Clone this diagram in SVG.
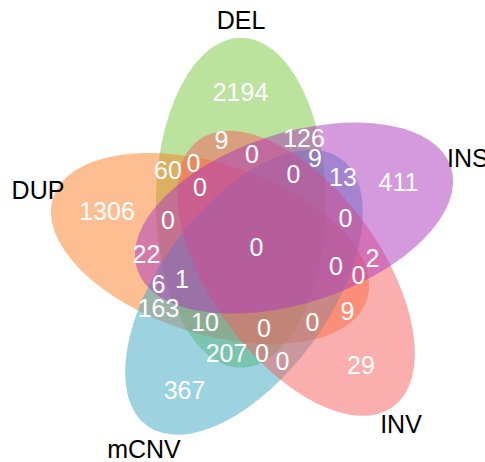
<svg xmlns="http://www.w3.org/2000/svg" width="485" height="462" viewBox="0 0 485 462">
<style>
.set{fill-opacity:0.5;stroke:none}
.n{font-family:"Liberation Sans",Arial,sans-serif;font-size:25px;fill:#fff;text-anchor:middle}
.lab{font-family:"Liberation Sans",Arial,sans-serif;font-size:25px;fill:#000;text-anchor:middle}
</style>
<rect width="485" height="462" fill="#fff"/>
<g id="DEL"><ellipse class="set" cx="240.9" cy="202.8" rx="165" ry="85" transform="rotate(-90 240.9 202.8)" fill="#77C73B"/><text class="lab" x="241" y="29">DEL</text></g>
<g id="DUP"><ellipse class="set" cx="210" cy="248.6" rx="165" ry="85" transform="rotate(-162 210 248.6)" fill="#FB7D25"/><text class="lab" x="38" y="199">DUP</text></g>
<g id="mCNV"><ellipse class="set" cx="244" cy="292.2" rx="165" ry="85" transform="rotate(-234 244 292.2)" fill="#3BA7C3"/><text class="lab" x="144" y="458">mCNV</text></g>
<g id="INV"><ellipse class="set" cx="296" cy="273.3" rx="165" ry="85" transform="rotate(-306 296 273.3)" fill="#F75D5D"/><text class="lab" x="401" y="433">INV</text></g>
<g id="INS"><ellipse class="set" cx="294" cy="218.1" rx="165" ry="85" transform="rotate(-18 294 218.1)" fill="#AB35BD"/><text class="lab" x="447" y="167" text-anchor="start" style="text-anchor:start">INS</text></g>
<g id="counts">
<text class="n" x="240.5" y="101">2194</text>
<text class="n" x="221.5" y="149">9</text>
<text class="n" x="304" y="147">126</text>
<text class="n" x="252" y="163">0</text>
<text class="n" x="315" y="167">9</text>
<text class="n" x="168" y="179">60</text>
<text class="n" x="193.5" y="172">0</text>
<text class="n" x="293.5" y="183">0</text>
<text class="n" x="343" y="186">13</text>
<text class="n" x="200" y="196">0</text>
<text class="n" x="398.5" y="191">411</text>
<text class="n" x="107" y="220">1306</text>
<text class="n" x="168" y="229">0</text>
<text class="n" x="345.5" y="227">0</text>
<text class="n" x="256.5" y="256">0</text>
<text class="n" x="146.5" y="263">22</text>
<text class="n" x="372.5" y="267">2</text>
<text class="n" x="336" y="275">0</text>
<text class="n" x="358.5" y="284">0</text>
<text class="n" x="158.5" y="293">6</text>
<text class="n" x="182" y="288">1</text>
<text class="n" x="158.5" y="317">163</text>
<text class="n" x="205" y="331">10</text>
<text class="n" x="264" y="337">0</text>
<text class="n" x="226.5" y="362">207</text>
<text class="n" x="262" y="362">0</text>
<text class="n" x="282.5" y="370">0</text>
<text class="n" x="312.5" y="331">0</text>
<text class="n" x="347.5" y="320">9</text>
<text class="n" x="361" y="374">29</text>
<text class="n" x="184.5" y="399">367</text>
</g>
</svg>
